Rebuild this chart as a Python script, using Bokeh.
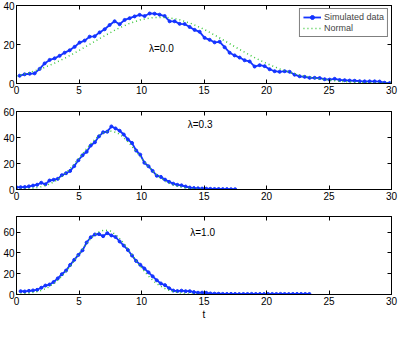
from bokeh.plotting import figure
from bokeh.layouts import column
from bokeh.models import Range1d, LinearAxis, FixedTicker, CustomJSTickFormatter
from bokeh.embed import file_html
from bokeh.resources import INLINE
from bokeh.core.properties import value

FONT = "Liberation Sans"
BLUE = "#1434ff"
GREEN = "#3cc83c"

# ---- data ----
# lambda = 0.0, simulated data sampled every 0.4 starting at t = 0.25
sim0_start, sim0_step = 0.25, 0.4
sim0 = [4.0, 4.7, 5.0, 5.2, 7.5, 10.3, 12.1, 12.9, 14.2, 15.8,
        17.0, 18.8, 21.0, 22.0, 24.0, 24.2, 26.2, 27.8, 30.0, 31.9,
        30.4, 32.6, 33.5, 34.4, 35.2, 34.6, 35.9, 35.8, 35.3, 34.6,
        31.9, 31.9, 30.6, 30.5, 29.0, 27.5, 26.5, 23.4, 22.4, 21.1,
        21.4, 18.6, 15.8, 14.4, 13.3, 11.9, 11.3, 8.7, 9.4, 8.9,
        7.3, 6.3, 6.0, 6.3, 6.0, 4.5, 3.7, 3.4, 2.9, 2.9,
        2.8, 2.2, 2.0, 2.4, 1.8, 1.7, 1.5, 1.4, 1.2, 1.1,
        1.1, 1.1, 1.0, 0.4, 0.2]
# normal fit, lambda = 0.0, at t = 0, 1, ..., 30
norm0_t = list(range(0, 31))
norm0 = [3.8, 5.5, 7.6, 10.3, 13.4, 16.9, 20.6, 24.3, 27.8, 30.7,
         32.8, 33.9, 33.9, 32.8, 30.7, 27.8, 24.3, 20.6, 16.9, 13.4,
         10.3, 7.6, 5.5, 3.8, 2.6, 1.7, 1.05, 0.64, 0.38, 0.22, 0.12]

# lambda = 0.3, simulated data every 0.33 starting at t = 0
sim3_start, sim3_step = 0.0, 0.33
sim3 = [1.7, 1.8, 1.9, 2.4, 3.0, 3.7, 5.2, 4.0, 6.9, 7.5,
        8.2, 11.0, 12.5, 14.3, 18.0, 22.5, 26.3, 29.0, 33.8, 36.3,
        40.9, 44.0, 44.5, 48.5, 47.0, 45.2, 42.3, 38.5, 35.8, 30.0,
        26.8, 20.6, 17.9, 14.3, 10.6, 9.7, 7.6, 5.9, 4.5, 3.6,
        3.2, 2.3, 1.5, 1.1, 0.9, 0.7, 0.6, 0.5, 0.4, 0.4,
        0.3, 0.3, 0.2, 0.2]
norm_half_t = [0, 0.5, 1, 1.5, 2, 2.5, 3, 3.5, 4, 4.5, 5, 5.5, 6, 6.5, 7, 7.5,
               8, 8.5, 9, 9.5, 10, 10.5, 11, 11.5, 12, 12.5, 13, 13.5, 14, 14.5, 15]
norm3 = [0.16, 0.3, 0.6, 1.2, 2.2, 3.6, 5.9, 9.0, 13.1, 18.2,
         24.0, 30.1, 35.9, 40.7, 43.9, 45.0, 43.9, 40.7, 35.9, 30.1,
         24.0, 18.2, 13.1, 9.0, 5.9, 3.6, 2.2, 1.2, 0.6, 0.3, 0.16]

# lambda = 1.0, simulated data every 0.33 starting at t = 0.33
sim10_start, sim10_step = 0.33, 0.33
sim10 = [3.2, 2.9, 3.5, 3.9, 4.5, 6.5, 8.6, 9.6, 12.0, 15.5,
         19.5, 23.0, 28.4, 33.3, 38.1, 42.5, 50.0, 55.0, 57.7, 58.1,
         56.1, 59.0, 56.8, 55.3, 51.0, 47.0, 42.8, 37.5, 32.3, 28.6,
         25.0, 21.3, 17.5, 13.7, 10.6, 9.0, 6.0, 3.8, 3.3, 3.7,
         3.2, 3.2, 2.3, 1.7, 1.8, 1.6, 1.0, 0.8, 0.7, 0.6,
         0.5, 0.6, 0.5, 0.4, 0.5, 0.5, 0.6, 0.5, 0.5, 0.4,
         0.5, 0.5, 0.5, 0.6, 0.5, 0.4, 0.5, 0.5, 0.5, 0.5, 0.5]
norm10 = [0.3, 0.6, 1.2, 2.3, 4.0, 6.7, 10.6, 15.8, 22.5, 30.4,
          39.0, 47.4, 54.6, 59.7, 62.0, 61.0, 56.9, 50.4, 42.4, 33.8,
          25.6, 18.4, 12.5, 8.1, 5.0, 2.9, 1.6, 0.8, 0.4, 0.2, 0.1]

x_ticks = [0, 5, 10, 15, 20, 25, 30]


def grid(start, step, n):
    return [round(start + step * i, 3) for i in range(n)]


def make_axis(ticks, show_labels=True):
    ax = LinearAxis(ticker=FixedTicker(ticks=ticks))
    ax.major_tick_in = 4
    ax.major_tick_out = 0
    ax.minor_tick_in = 0
    ax.minor_tick_out = 0
    ax.axis_line_color = "black"
    ax.major_tick_line_color = "black"
    ax.major_label_text_color = "black"
    ax.major_label_text_font = FONT
    ax.major_label_text_font_size = "10px"
    if show_labels:
        ax.major_label_standoff = 2
    else:
        ax.formatter = CustomJSTickFormatter(code="return ''")
        ax.major_label_standoff = 0
    return ax


def panel(ymax, yticks, t_sim, sim, t_norm, norm, lam, lx, ly,
          height, top, bottom, xlabel=None, legend=False):
    p = figure(width=399, height=height, x_range=Range1d(0, 30),
               y_range=Range1d(0, ymax), output_backend="svg",
               toolbar_location=None, x_axis_type=None, y_axis_type=None,
               min_border_left=14, min_border_right=8,
               min_border_top=top, min_border_bottom=bottom)
    p.xgrid.visible = False
    p.ygrid.visible = False
    p.outline_line_color = "black"
    p.outline_line_alpha = 1.0

    bottom_ax = make_axis(x_ticks)
    if xlabel:
        bottom_ax.axis_label = xlabel
        bottom_ax.axis_label_text_font = FONT
        bottom_ax.axis_label_text_font_size = "10px"
        bottom_ax.axis_label_text_font_style = "normal"
        bottom_ax.axis_label_text_color = "black"
        bottom_ax.axis_label_standoff = 1
    p.add_layout(bottom_ax, "below")
    p.add_layout(make_axis(yticks), "left")
    p.add_layout(make_axis(x_ticks, False), "above")
    p.add_layout(make_axis(yticks, False), "right")

    kw = {}
    kw2 = {}
    if legend:
        kw = dict(legend_label="Simulated data")
        kw2 = dict(legend_label="Normal")
    p.line(t_sim, sim, line_color=BLUE, line_width=1.8, **kw)
    p.scatter(t_sim, sim, size=3, fill_color=BLUE, line_color=BLUE, **kw)
    p.line(t_norm, norm, line_color=GREEN, line_width=1.5, line_dash="1 3", **kw2)

    p.text(x=[lx], y=[ly], text=[lam], text_font=value(FONT),
           text_font_size="10px", text_baseline="middle", text_align="left",
           text_color="black")

    if legend:
        lg = p.legend[0]
        lg.location = "top_right"
        lg.border_line_color = "black"
        lg.border_line_width = 1
        lg.background_fill_color = "white"
        lg.background_fill_alpha = 1.0
        lg.label_text_font = FONT
        lg.label_text_font_size = "9px"
        lg.glyph_width = 18
        lg.glyph_height = 10
        lg.label_height = 10
        lg.label_standoff = 3
        lg.spacing = 1
        lg.padding = 3
        lg.margin = 3
    return p


p1 = panel(40, [0, 20, 40], grid(sim0_start, sim0_step, len(sim0)), sim0,
           norm0_t, norm0, "λ=0.0", 10.6, 18, 97, 5, 14, legend=True)
p2 = panel(60, [0, 20, 40, 60], grid(sim3_start, sim3_step, len(sim3)), sim3,
           norm_half_t, norm3, "λ=0.3", 13.7, 50, 105, 14, 13)
p3 = panel(75, [0, 20, 40, 60], grid(sim10_start, sim10_step, len(sim10)), sim10,
           norm_half_t, norm10, "λ=1.0", 13.9, 60, 125, 14, 33, xlabel="t")

layout = column(p1, p2, p3, spacing=0)
open("out.html", "w").write(file_html(layout, INLINE))
